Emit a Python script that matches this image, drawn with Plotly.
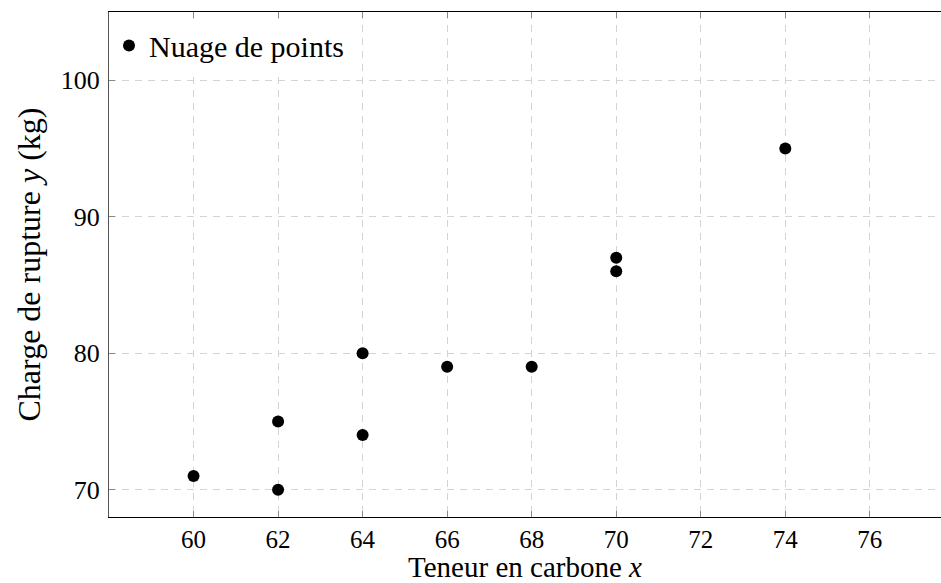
import plotly.graph_objects as go

carbone = [60, 62, 62, 64, 64, 66, 68, 70, 70, 74]
charge = [71, 75, 70, 80, 74, 79, 79, 87, 86, 95]
x_ticks = [60, 62, 64, 66, 68, 70, 72, 74, 76]
y_ticks = [70, 80, 90, 100]

FONT = "Liberation Serif"

fig = go.Figure()
fig.add_trace(go.Scatter(
    x=carbone, y=charge, mode="markers", name="Nuage de points",
    marker=dict(color="black", size=12),
))

fig.update_layout(
    width=941, height=583,
    margin=dict(l=109, r=0, t=12, b=66, autoexpand=False),
    paper_bgcolor="white", plot_bgcolor="white",
    font=dict(family=FONT, size=26, color="black"),
    showlegend=True,
    legend=dict(x=0.0, y=0.985, xanchor="left", yanchor="top",
                bgcolor="white", borderwidth=0, itemwidth=30,
                font=dict(family=FONT, size=30)),
    xaxis=dict(
        range=[58, 58 + 832 / 42.27], tickvals=x_ticks,
        showline=True, linecolor="black", linewidth=1.2, mirror="ticks",
        ticks="inside", ticklen=6, tickcolor="#888", tickwidth=1,
        showgrid=True, gridcolor="#d4d4d4", gridwidth=1, griddash="7px,6px",
        zeroline=False, ticklabelstandoff=0, automargin=False,
        tickfont=dict(family=FONT, size=25),
        title=dict(text="Teneur en carbone <i>x</i>", standoff=12,
                   font=dict(family=FONT, size=29)),
    ),
    yaxis=dict(
        range=[68, 105], tickvals=y_ticks,
        showline=True, linecolor="#555", linewidth=1.2,
        ticks="inside", ticklen=6, tickcolor="#888", tickwidth=1,
        showgrid=True, gridcolor="#d4d4d4", gridwidth=1, griddash="7px,6px",
        zeroline=False, ticklabelstandoff=3, automargin=False,
        tickfont=dict(family=FONT, size=26),
        title=dict(text="Charge de rupture <i>y</i> (kg)", standoff=10,
                   font=dict(family=FONT, size=32)),
    ),
)

fig.write_html("out.html")
